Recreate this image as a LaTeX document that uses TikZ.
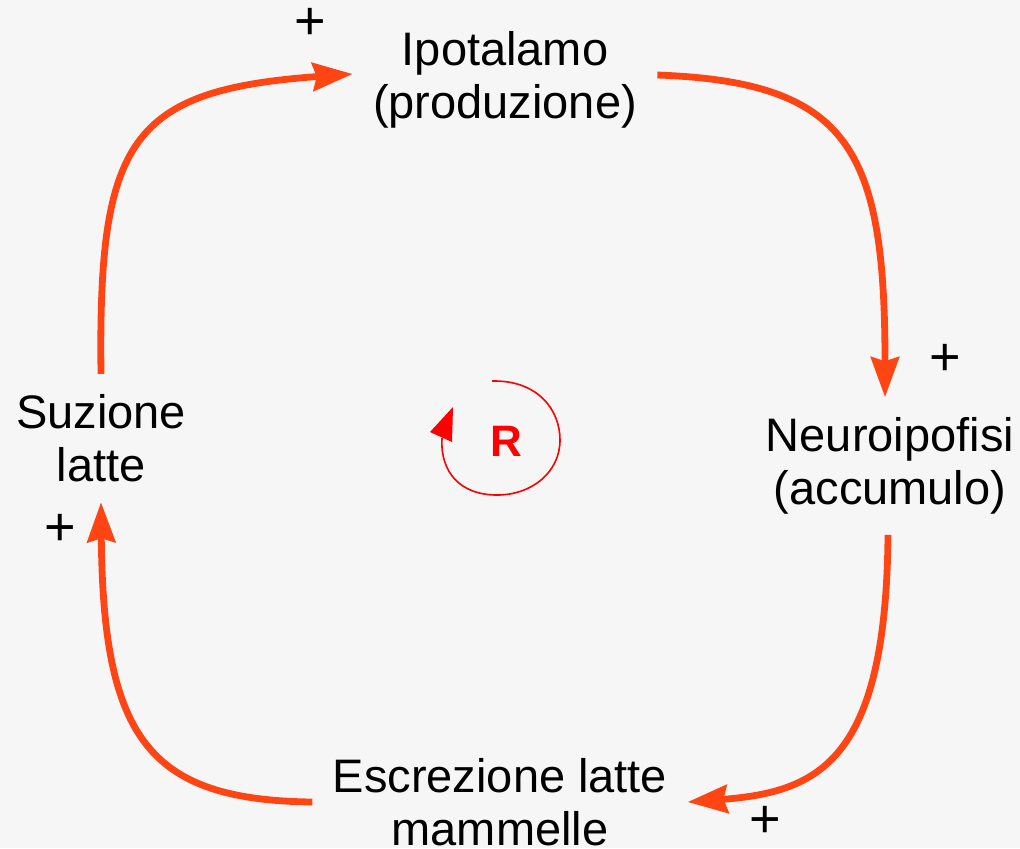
\documentclass[tikz,border=0pt]{standalone}
\usepackage{fontspec}
\setmainfont{Liberation Sans}
\usetikzlibrary{arrows.meta}
\definecolor{loopred}{RGB}{255,69,19}
\definecolor{bggray}{RGB}{246,246,246}

\begin{document}
\begin{tikzpicture}[x=0.5pt, y=-0.5pt,
    stage/.style={align=center, inner sep=10pt, font=\fontsize{23.5}{26.5}\selectfont},
    sign/.style={inner sep=0pt, font=\fontsize{27}{30}\selectfont},
    arr/.style={-{Stealth[length=20pt, width=14pt, inset=2pt]}, line width=3.4pt, loopred},
    rloop/.style={line width=0.8pt, red}
]
    \useasboundingbox[fill=bggray] (0,0) rectangle (1020,848);

    % the four stages
    \node[stage] (ipotalamo) at (505,80) {Ipotalamo\\(produzione)};
    \node[stage] (neuro) at (890,466) {Neuroipofisi\\(accumulo)};
    \node[stage] (escrezione) at (500,802) {Escrezione latte\\mammelle};
    \node[stage] (suzione) at (101,438) {Suzione\\latte};

    % polarities
    \node[sign] (plusA) at (310,24) {+};
    \node[sign] (plusB) at (945,360) {+};
    \node[sign] (plusC) at (765,822) {+};
    \node[sign] (plusD) at (60,530) {+};

    % links
    \draw[arr] (suzione.north) .. controls (98,140) and (130,90) .. ([yshift=3pt]ipotalamo.west);
    \draw[arr] ([yshift=2.5pt]ipotalamo.east) .. controls (850,82) and (885,150) .. ([xshift=-2.5pt]neuro.north);
    \draw[arr] ([xshift=-1pt]neuro.south) .. controls (886,760) and (820,792) .. (escrezione.east);
    \draw[arr] (escrezione.west) .. controls (150,800) and (103,740) .. (suzione.south);

    % reinforcing loop
    \node[font=\fontsize{22}{24}\selectfont\bfseries, text=red] (loopR) at (506,441) {R};
    \draw[rloop] (492,381) .. controls (538,380) and (560,410) .. (560,440)
        .. controls (560,472) and (532,495) .. (497,495)
        .. controls (460,495) and (440,472) .. (442,438);
    \fill[red] (430,432) -- (453,407) -- (452,442) -- cycle;
\end{tikzpicture}
\end{document}
